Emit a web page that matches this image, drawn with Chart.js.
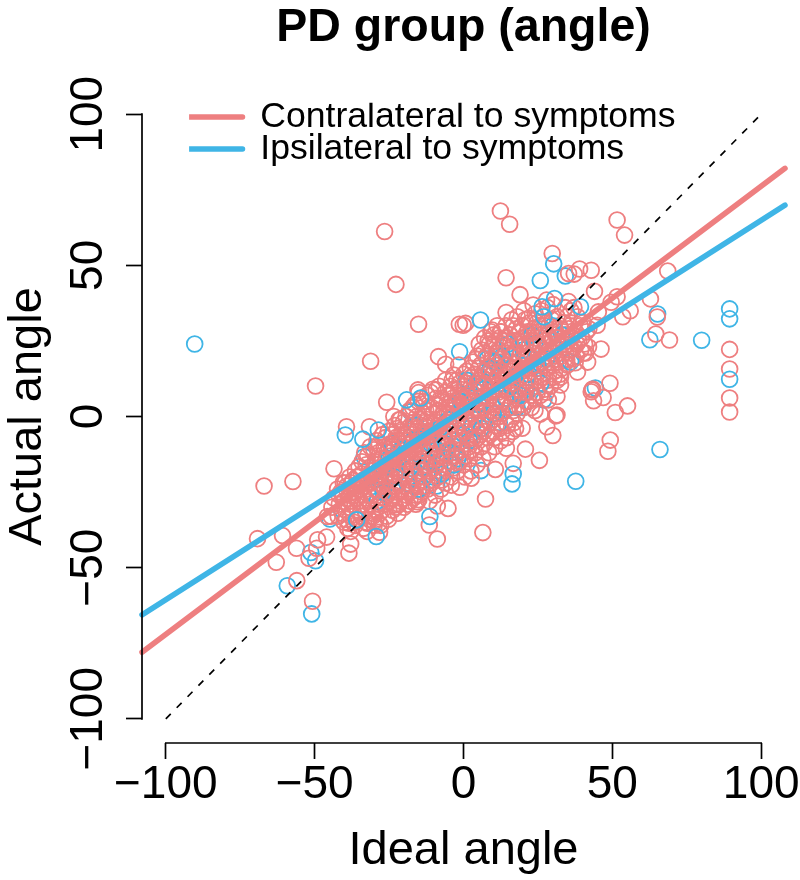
<!DOCTYPE html>
<html>
<head>
<meta charset="utf-8">
<title>PD group (angle)</title>
<script src="https://cdn.jsdelivr.net/npm/chart.js@4"></script>
<style>
body { margin: 0; background: #fff; }
canvas { display: block; }
</style>
</head>
<body>
<canvas id="chart1" width="800" height="880"></canvas>
<script>
const tickValues = [-100, -50, 0, 50, 100];

// fitted lines, read at the ends of the plot
const lineX = [-108, 108];
const contraLineY = [-78, 82.1];
const ipsiLineY = [-65.6, 69.9];
const identityX = [-100, 100];
const identityY = [-100, 100];

// red circles (the middle of the cloud is an estimate)
const contraX = [
  -26.5,-22.7,-15.1,-31.2,-49.7,-1.4,-0.1,0.7,-8.4,-6,-1.6,-3.3,-6,-3.8,-25.8,-39.3,-31.6,-15.3,-15.1,-9.2,-23.4,-21.7,
  12.4,15.5,51.6,54.1,29.8,35.3,37.2,39,42.9,14.3,19,68.6,44,51.6,49.6,62.8,65.1,56,53.5,
  89.4,89.4,89.4,89.4,69.2,64.6,46.2,38.3,49.2,43.2,42.9,43.4,46.9,43.7,55.1,51,31.4,31,25.8,28,
  14.3,44.9,45.3,27.9,35.3,23.4,21.9,31.4,34.8,9.6,12.4,42,41,37.5,34.7,32.6,31.4,28.5,
  -67,-57.3,-43.5,-69.2,-60.8,-56.1,-62.9,-56,-50.7,-49,-49.3,-51.9,-46,-45.7,-38.5,-37.9,-37.9,-38.5,
  -28.2,-32.3,-30,-28.4,-11.5,-8.8,-8.8,-5.2,7.4,6.5,16.7,10.7,2.6,-1.2,-4.1,-15.5,-16,-15,-23.4,
  20.8,19.7,14.4,49.3,48.5,25.5,30,-35.1,-40.4,-29.3,
  -44.2,-43.6,-44.5,
  -42.3,-41.7,-42.1,-41.8,
  -40.4,-39.6,-40.1,-39.8,-40.3,
  -38.2,-37.7,-38.4,-37.9,-38.1,-37.6,
  -36.3,-35.8,-36.1,-35.6,-36.4,-35.9,-36.2,
  -34.1,-33.7,-34.4,-33.9,-34.2,-33.6,-34.3,-33.8,
  -32.2,-31.6,-32.3,-31.9,-32.1,-31.7,-32.4,-31.8,
  -30.1,-29.7,-30.3,-29.8,-30.2,-29.6,-30.4,-29.9,-30,
  -28.3,-27.7,-28.1,-27.9,-28.4,-27.6,-28.2,-27.8,-28,-27.5,
  -26.2,-25.7,-26.3,-25.9,-26.1,-25.6,-26.4,-25.8,-26,-25.5,
  -24.1,-23.7,-24.3,-23.9,-24.2,-23.6,-24.4,-23.8,-24,-23.5,
  -22.3,-21.7,-22.1,-21.9,-22.4,-21.6,-22.2,-21.8,-22,-21.5,
  -20.2,-19.7,-20.3,-19.8,-20.1,-19.6,-20.4,-19.9,-20,-19.5,-20.5,
  -18.1,-17.7,-18.3,-17.9,-18.2,-17.6,-18.4,-17.8,-18,-17.5,-18.5,
  -16.3,-15.7,-16.1,-15.9,-16.4,-15.6,-16.2,-15.8,-16,-15.5,-16.5,
  -14.2,-13.7,-14.3,-13.8,-14.1,-13.6,-14.4,-13.9,-14,-13.5,-14.5,
  -12.1,-11.7,-12.3,-11.9,-12.2,-11.6,-12.4,-11.8,-12,-11.5,-12.5,
  -10.3,-9.7,-10.1,-9.9,-10.4,-9.6,-10.2,-9.8,-10,-9.5,-10.5,
  -8.2,-7.7,-8.3,-7.8,-8.1,-7.6,-8.4,-7.9,-8,-7.5,-8.5,
  -6.1,-5.7,-6.3,-5.9,-6.2,-5.6,-6.4,-5.8,-6,-5.5,-6.5,
  -4.3,-3.7,-4.1,-3.9,-4.4,-3.6,-4.2,-3.8,-4,-3.5,-4.5,
  -2.2,-1.7,-2.3,-1.8,-2.1,-1.6,-2.4,-1.9,-2,-1.5,-2.5,
  0.1,0.3,-0.3,-0.1,0.2,0.4,-0.4,-0.2,0,0.5,-0.5,
  2.3,1.7,2.1,1.9,2.4,1.6,2.2,1.8,2,2.5,1.5,
  4.2,3.7,4.3,3.8,4.1,3.6,4.4,3.9,4,4.5,3.5,
  6.1,5.7,6.3,5.9,6.2,5.6,6.4,5.8,6,6.5,5.5,
  8.3,7.7,8.1,7.9,8.4,7.6,8.2,7.8,8,8.5,7.5,
  10.2,9.7,10.3,9.8,10.1,9.6,10.4,9.9,10,10.5,9.5,
  12.1,11.7,12.3,11.9,12.2,11.6,12.4,11.8,12,12.5,11.5,
  14.3,13.7,14.1,13.9,14.4,13.6,14.2,13.8,14,14.5,13.5,
  16.2,15.7,16.3,15.8,16.1,15.6,16.4,15.9,16,16.5,15.5,
  18.1,17.7,18.3,17.9,18.2,17.6,18.4,17.8,18,17.5,
  20.3,19.7,20.1,19.9,20.4,19.6,20.2,19.8,20,
  22.2,21.7,22.3,21.8,22.1,21.6,22.4,21.9,
  24.1,23.7,24.3,23.9,24.2,23.6,24.4,23.8,24,
  26.3,25.7,26.1,25.9,26.4,25.6,26.2,25.8,
  28.2,27.7,28.3,27.8,28.1,27.6,28.4,27.9,
  30.1,29.7,30.3,29.9,30.2,29.6,30.4,
  32.3,31.7,32.1,31.9,32.4,
  34.2,33.7,34.3,33.8,34.1,
  36.1,35.7,36.3,35.9,
  38.3,37.7,38.1,37.9,
  40.2,39.7,40.3,
  42.1,41.7
];
const contraY = [
  61.2,43.7,30.5,18.3,10.1,30.5,30.2,30.8,19.8,17.3,17,13.7,12,12,4.7,-3.4,-3.4,8.8,7.9,8.8,0,-1.1,
  68,63.6,65,60,53.9,47.3,47.1,48.8,48.4,45.9,40.3,48.1,41.4,39.6,37.8,38.9,32.9,35,33,
  22.2,15.7,6.1,1.5,25.3,27.3,22.3,14.7,11,8.8,8.2,9.1,6.3,5.2,3.5,1.3,0.5,0.2,0.8,-3.4,
  34.4,30.2,34.6,38.5,38,36.9,32.5,33,33,28.6,28,23,21,17.8,18.8,10.4,6.6,5.5,
  -23,-21.5,-17.3,-40.4,-39.4,-43.6,-48.2,-54.3,-61.1,-40.8,-43.6,-46.9,-39.9,-33.1,-45.2,-42.2,-38,-35.3,
  -38.3,-35.3,-34.8,-35.3,-35.9,-40.5,-29.6,-30.4,-27.3,-38.4,-15.5,-17.5,-20.4,-23.4,-22.7,-28.2,-29,-27.5,-29.3,
  -10.8,-3.9,-10.5,-7.8,-11.5,-14.5,-6.3,-16.6,-21.9,-10,
  -30,-27,-33,
  -24,-29,-33,-26,
  -26,-31,-35,-22,-28,
  -20,-25,-30,-33,-28,-22,
  -18,-23,-27,-31,-36,-20,-25,
  -15,-21,-24,-29,-33,-37,-19,-26,
  -13,-17,-22,-26,-30,-34,-38,-20,
  -11,-15,-19,-24,-27,-31,-33,-21,-36,
  -9,-14,-17,-21,-25,-28,-32,-36,-19,-23,
  -7,-12,-15,-19,-22,-26,-29,-33,-17,-24,
  -6,-10,-13,-17,-20,-24,-27,-31,-15,-22,
  -4,-8,-12,-15,-18,-22,-25,-29,-32,-20,
  -2,-6,-10,-13,-17,-20,-23,-27,-30,-15,-8,
  2,-3,-7,-11,-14,-18,-21,-25,-28,-9,-16,
  4,0,-5,-9,-12,-16,-19,-23,-26,-7,-14,
  6,1,-3,-7,-10,-14,-17,-21,-25,-5,-12,
  7,3,-1,-5,-9,-12,-15,-19,-24,-28,-7,
  9,4,1,-3,-7,-10,-13,-17,-21,-26,-5,
  10,6,2,-2,-5,-8,-12,-15,-19,-24,-3,
  8,4,0,-3,-7,-10,-14,-18,-22,1,-12,
  10,6,2,-1,-5,-8,-12,-16,-20,4,-3,
  12,8,4,1,-3,-6,-10,-14,-18,6,-8,
  14,10,6,2,-1,-4,-8,-12,-16,-20,4,
  16,12,8,5,1,-2,-6,-10,-14,-18,3,
  19,14,10,7,3,0,-4,-8,-12,-16,5,
  22,17,13,9,5,2,-2,-6,-10,-14,11,
  25,20,16,12,8,4,1,-3,-7,-12,14,
  27,23,18,14,11,7,3,-1,-5,-10,16,
  26,22,18,15,11,8,4,0,-4,-8,20,
  30,25,21,17,14,10,6,2,-2,-7,12,
  32,27,23,20,16,12,8,4,-1,-5,18,
  33,29,25,21,18,14,10,6,1,-4,
  35,30,26,23,19,15,11,7,3,
  31,27,24,20,16,13,9,5,
  34,29,26,22,18,14,10,6,2,
  35,30,27,23,19,15,11,7,
  36,31,27,24,20,16,12,8,
  37,32,28,25,21,17,13,
  30,26,22,18,14,
  36,31,27,23,19,
  35,30,26,22,
  33,28,24,20,
  31,26,21,
  29,18
];

// more of the dense middle of the red cloud, also an estimate, drawn above the blue flecks
const contraMidX = [
  -41.2,-40.7,
  -39.2,-38.7,-39.4,-38.9,
  -37.1,-36.6,-37.3,-36.8,
  -35.3,-34.8,-35.1,-34.6,-35.4,
  -33.2,-32.7,-33.4,-32.9,-33.1,-32.6,
  -31.3,-30.7,-31.1,-30.8,-31.4,-30.6,
  -29.1,-28.7,-29.3,-28.9,-29.2,-28.6,-29.4,
  -27.2,-26.7,-27.4,-26.9,-27.1,-26.6,-27.3,
  -25.3,-24.7,-25.1,-24.9,-25.4,-24.6,-25.2,
  -23.1,-22.7,-23.3,-22.9,-23.2,-22.6,-23.4,-22.8,
  -21.2,-20.7,-21.4,-20.9,-21.1,-20.6,-21.3,
  -19.3,-18.7,-19.1,-18.9,-19.4,-18.6,-19.2,-18.8,
  -17.1,-16.7,-17.3,-16.9,-17.2,-16.6,-17.4,-16.8,
  -15.2,-14.7,-15.4,-14.9,-15.1,-14.6,-15.3,-14.8,
  -13.3,-12.7,-13.1,-12.9,-13.4,-12.6,-13.2,-12.8,
  -11.1,-10.7,-11.3,-10.9,-11.2,-10.6,-11.4,-10.8,
  -9.2,-8.7,-9.4,-8.9,-9.1,-8.6,-9.3,
  -7.3,-6.7,-7.1,-6.9,-7.4,-6.6,-7.2,
  -5.1,-4.7,-5.3,-4.9,-5.2,-4.6,
  -3.2,-2.7,-3.4,-2.9,-3.1,-2.6,-3.3,
  -1.3,-0.7,-1.1,-0.9,-1.4,-0.6,-1.2,
  1.1,0.7,1.3,0.9,1.2,0.6,1.4,0.8,
  3.2,2.7,3.4,2.9,3.1,2.6,3.3,2.8,
  5.3,4.7,5.1,4.9,5.4,4.6,5.2,4.8,
  7.1,6.7,7.3,6.9,7.2,6.6,7.4,6.8,7,
  9.2,8.7,9.4,8.9,9.1,8.6,9.3,8.8,9,
  11.3,10.7,11.1,10.9,11.4,10.6,11.2,10.8,11,10.5,
  12.7,13.3,12.9,13.2,12.6,13.4,12.8,13,
  14.7,15.4,14.9,15.1,14.6,15.3,14.8,
  16.7,17.1,16.9,17.4,16.6,17.2,16.8,17,
  18.7,19.3,18.9,19.2,18.6,19.4,
  20.7,21.4,20.9,21.1,20.6,21.3,20.8,21,
  22.7,23.1,22.9,23.4,22.6,23.2,22.8,
  24.7,25.3,24.9,25.2,24.6,25.4,24.8,
  26.7,27.4,26.9,27.1,26.6,27.3,
  28.7,29.1,28.9,29.4,28.6,29.2,
  30.7,31.3,30.9,31.2,30.6,31.4,
  32.7,33.4,32.9,33.1,32.6,
  35.3,34.7,35.1,34.9,
  37.1,36.7,37.3,36.9,
  39.2,38.7,39.4,
  41.3,40.7
];
const contraMidY = [
  -25,-32,
  -23,-27,-34,-37,
  -21,-26,-29,-35,
  -20,-24,-28,-32,-34,
  -12,-16,-23,-27,-31,-35,
  -10,-18,-22,-26,-29,-32,
  -8,-12,-16,-20,-24,-29,-34,
  -6,-10,-14,-18,-23,-27,-31,
  -5,-9,-16,-20,-25,-28,-34,
  -3,-7,-11,-14,-19,-23,-26,-30,
  -1,-5,-9,-14,-19,-24,-28,
  0,-4,-8,-12,-16,-22,-26,-29,
  3,-2,-6,-10,-15,-20,-24,-27,
  5,-1,-4,-8,-13,-18,-22,-26,
  5,2,-2,-6,-11,-16,-20,-23,
  8,3,-2,-6,-11,-14,-18,-22,
  6,2,-4,-9,-14,-20,-16,
  5,1,-4,-9,-13,-17,-21,
  7,3,-2,-6,-11,-15,
  9,5,0,-4,-9,-13,-17,
  11,7,3,-2,-7,-11,-15,
  15,11,7,3,-1,-5,-9,-13,
  18,13,9,5,1,-3,-7,-11,
  24,20,16,11,6,2,-3,-7,
  26,21,15,11,7,3,-1,-5,-9,
  28,24,19,15,10,6,2,-2,-6,
  30,25,21,17,13,9,5,1,-3,-7,
  28,24,19,15,9,5,1,-5,
  26,22,17,13,9,3,-3,
  30,25,21,16,11,7,2,-2,
  28,24,20,13,9,4,
  32,28,24,20,16,12,8,5,
  28,25,21,17,11,7,3,
  31,28,24,20,16,12,8,
  29,25,22,17,13,9,
  30,26,22,18,14,10,
  29,26,23,19,15,12,
  29,24,20,16,13,
  29,25,21,17,
  36,27,23,19,
  30,25,22,
  28,24
];

// blue circles at the bottom of the stack
const ipsiX = [
  -90.3,-1.3,34.2,25.8,65.2,89.4,89.4,80,62.6,44.3,27,20,
  -59.2,-51,-51.3,-49.7,-44.9,16.3,5.9,-9,66,37.7,-33.4,-17.8
];
const ipsiY = [
  24,21.4,46.5,45,33.9,35.6,32.3,25.2,25.4,9.4,5.5,3,
  -56,-65.3,-45,-47.7,-33.9,-22.3,-17.9,-23,-10.9,-21.4,-13.3,1.6
];

// blue circles between the red layers, they show as flecks in the cloud
const ipsiMidX = [
  -31,-25,-21,-17,-12,-8,-4,-1,3,7,10,13,17,21,24,28,33,36,
  -27,-19,-14,-6,-2,1,5,9,12,15,19,23,-23,-16,2,8,18,26,
  -29,-24,-18,-13,-9,-5,0,4,6,11,14,16,20,22,25,30,
  -22,-15,-10,-3,-7,-11
];
const ipsiMidY = [
  -20,-14,-11,-8,-15,-4,-12,5,-3,9,1,20,13,8,24,19,27,18,
  -25,-22,-17,-9,-14,12,4,16,-2,24,7,27,-20,-3,-8,19,3,11,
  -28,-9,-17,-6,-11,-1,-6,11,-4,18,6,10,22,14,17,30,
  -12,-24,-20,-16,-19,-9
];

// the blue circles that sit on top of the red ones
const ipsiTopX = [89.4, 30.3, -35.9, -29.3, -19.1, -14.4, -28.6, -39.7, -33.8, 5.7, 39.3, 30.6, 26.4, 27, -11.3, 16.7];
const ipsiTopY = [12.3, 50.5, -34.2, -39.7, 5.5, 6.1, -4.5, -6.1, -7.5, 31.9, 36.3, 39, 36.3, 33, -33.1, -19];

const redColor = '#EE7F80';
const blueColor = '#3FB5E6';

function toPoints(xs, ys) {
  return xs.map((x, i) => ({ x: x, y: ys[i] }));
}

function circles(xs, ys, color) {
  return {
    data: toPoints(xs, ys),
    pointStyle: 'circle',
    pointRadius: 7.9,
    pointBorderWidth: 1.8,
    pointBorderColor: color,
    pointBackgroundColor: 'rgba(0,0,0,0)',
    showLine: false
  };
}

function fitLine(label, ys, color) {
  return {
    label: label,
    data: toPoints(lineX, ys),
    showLine: true,
    pointRadius: 0,
    borderColor: color,
    backgroundColor: color,
    borderWidth: 5.5,
    borderCapStyle: 'round',
    borderJoinStyle: 'round',
    clip: false
  };
}

// R style axes: the line only runs from the first tick to the last one
const rAxes = {
  id: 'rAxes',
  afterLayout(chart) {
    chart.legend.left = chart.chartArea.left + 47.1;
    chart.legend.top = chart.chartArea.top + 12.7;
  },
  afterDraw(chart) {
    const ctx = chart.ctx;
    const sx = chart.scales.x, sy = chart.scales.y;
    ctx.save();
    ctx.strokeStyle = '#000';
    ctx.lineWidth = 1.7;
    ctx.lineCap = 'square';
    ctx.beginPath();
    ctx.moveTo(sx.getPixelForValue(tickValues[0]), sy.bottom);
    ctx.lineTo(sx.getPixelForValue(tickValues[4]), sy.bottom);
    ctx.moveTo(sx.left, sy.getPixelForValue(tickValues[0]));
    ctx.lineTo(sx.left, sy.getPixelForValue(tickValues[4]));
    ctx.stroke();
    ctx.restore();
  }
};

function axisLabel(v) {
  return String(v).replace('-', '\u2212');
}

const tickFont = { family: '"Liberation Sans"', size: 46 };

new Chart(document.getElementById('chart1'), {
  type: 'scatter',
  data: {
    datasets: [
      fitLine('Ipsilateral to symptoms', ipsiLineY, blueColor),
      fitLine('Contralateral to symptoms', contraLineY, redColor),
      {
        data: toPoints(identityX, identityY),
        showLine: true,
        pointRadius: 0,
        borderColor: '#000',
        borderWidth: 1.7,
        borderDash: [7, 8.5]
      },
      circles(ipsiTopX, ipsiTopY, blueColor),
      circles(contraMidX, contraMidY, redColor),
      circles(ipsiMidX, ipsiMidY, blueColor),
      circles(contraX, contraY, redColor),
      circles(ipsiX, ipsiY, blueColor)
    ]
  },
  plugins: [rAxes],
  options: {
    responsive: false,
    animation: false,
    layout: { autoPadding: false, padding: { left: 0, right: 15, top: 0, bottom: 0 } },
    plugins: {
      tooltip: { enabled: false },
      title: {
        display: true,
        text: 'PD group (angle)',
        fullSize: false,
        color: '#000',
        font: { family: '"Liberation Sans"', size: 46.5, weight: 'bold' },
        padding: { top: 0, bottom: 34.2 }
      },
      legend: {
        position: 'chartArea',
        align: 'start',
        reverse: true,
        labels: {
          filter: item => !!item.text,
          boxWidth: 57,
          boxHeight: 0,
          padding: -3.6,
          color: '#000',
          font: { family: '"Liberation Sans"', size: 35.6, lineHeight: 0.9 }
        }
      }
    },
    scales: {
      x: {
        type: 'linear',
        min: -108,
        max: 108,
        afterBuildTicks(scale) { scale.ticks = tickValues.map(v => ({ value: v })); },
        afterFit(scale) { scale.height = 137; },
        border: { display: false },
        grid: { drawOnChartArea: false, drawTicks: true, tickLength: 16, tickWidth: 1.7, tickColor: '#000' },
        ticks: { autoSkip: false, maxRotation: 0, color: '#000', font: tickFont, padding: -1, callback: axisLabel },
        title: {
          display: true,
          text: 'Ideal angle',
          color: '#000',
          font: { family: '"Liberation Sans"', size: 47 },
          padding: { top: 0, bottom: 1 }
        }
      },
      y: {
        type: 'linear',
        min: -108,
        max: 108,
        afterBuildTicks(scale) { scale.ticks = tickValues.map(v => ({ value: v })); },
        afterFit(scale) { scale.width = 142; },
        border: { display: false },
        grid: { drawOnChartArea: false, drawTicks: true, tickLength: 16, tickWidth: 1.7, tickColor: '#000' },
        ticks: {
          autoSkip: false,
          minRotation: 90,
          maxRotation: 90,
          crossAlign: 'center',
          color: '#000',
          font: tickFont,
          padding: -15,
          callback: axisLabel
        },
        title: {
          display: true,
          text: 'Actual angle',
          color: '#000',
          font: { family: '"Liberation Sans"', size: 47 },
          padding: { top: 0, bottom: 0 }
        }
      }
    }
  }
});
</script>
</body>
</html>
